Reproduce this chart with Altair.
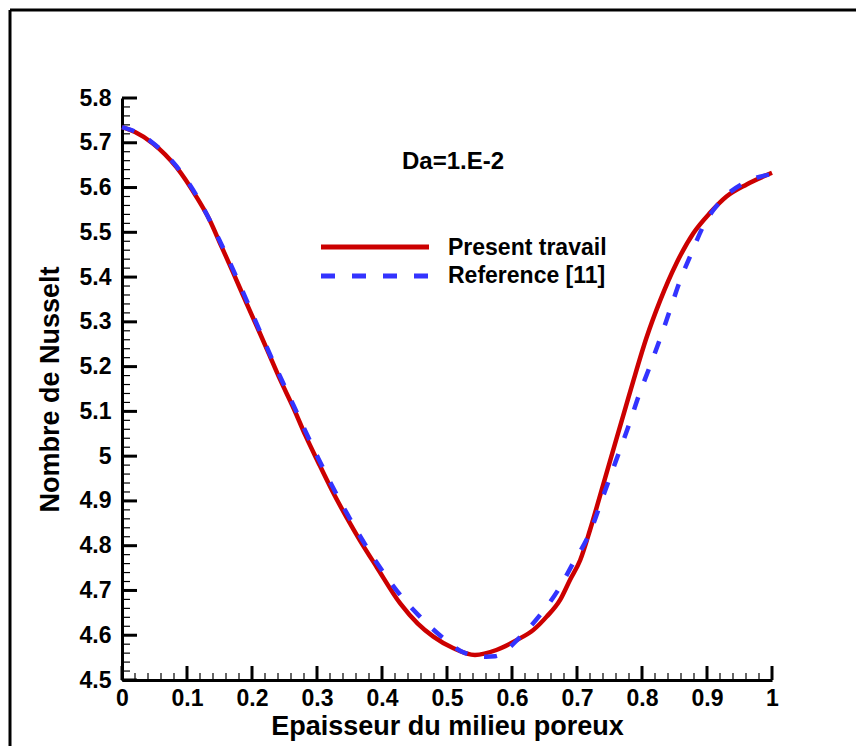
import altair as alt
import pandas as pd

# ---- data ----
red_x = [0, 0.02, 0.048, 0.084, 0.115, 0.135, 0.151, 0.171, 0.192, 0.212, 0.225, 0.243, 0.264,
         0.282, 0.302, 0.323, 0.346, 0.366, 0.392, 0.428, 0.455, 0.479, 0.51, 0.543, 0.576, 0.607,
         0.633, 0.653, 0.674, 0.689, 0.705, 0.72, 0.74, 0.76, 0.775, 0.787, 0.807, 0.828, 0.853,
         0.879, 0.905, 0.93, 0.961, 1.0]
red_y = [5.735, 5.724, 5.698, 5.645, 5.578, 5.527, 5.475, 5.410, 5.340, 5.275, 5.232, 5.172, 5.107,
         5.047, 4.986, 4.924, 4.862, 4.812, 4.752, 4.671, 4.626, 4.597, 4.571, 4.556, 4.567, 4.589,
         4.612, 4.641, 4.679, 4.723, 4.768, 4.835, 4.935, 5.035, 5.110, 5.170, 5.265, 5.348, 5.431,
         5.498, 5.544, 5.580, 5.607, 5.633]

blue_x = [0, 0.02, 0.048, 0.084, 0.115, 0.151, 0.192, 0.225, 0.264, 0.302, 0.346, 0.392, 0.428,
          0.456, 0.489, 0.528, 0.56, 0.574, 0.612, 0.643, 0.671, 0.694, 0.72, 0.74, 0.76, 0.78,
          0.795, 0.812, 0.828, 0.843, 0.858, 0.876, 0.894, 0.92, 0.961, 1.0]
blue_y = [5.735, 5.725, 5.699, 5.647, 5.581, 5.479, 5.347, 5.236, 5.113, 4.995, 4.872, 4.762, 4.690,
          4.645, 4.600, 4.560, 4.552, 4.553, 4.595, 4.645, 4.701, 4.761, 4.83, 4.91, 4.99, 5.07,
          5.135, 5.200, 5.263, 5.326, 5.390, 5.453, 5.513, 5.568, 5.613, 5.630]

x_major = [0, 0.1, 0.2, 0.3, 0.4, 0.5, 0.6, 0.7, 0.8, 0.9, 1.0]
x_minor = [0.02, 0.04, 0.06, 0.08, 0.12, 0.14, 0.16, 0.18, 0.22, 0.24, 0.26, 0.28,
           0.32, 0.34, 0.36, 0.38, 0.42, 0.44, 0.46, 0.48, 0.52, 0.54, 0.56, 0.58,
           0.62, 0.64, 0.66, 0.68, 0.72, 0.74, 0.76, 0.78, 0.82, 0.84, 0.86, 0.88,
           0.92, 0.94, 0.96, 0.98]
y_major = [4.5, 4.6, 4.7, 4.8, 4.9, 5.0, 5.1, 5.2, 5.3, 5.4, 5.5, 5.6, 5.7, 5.8]
y_minor = [4.52, 4.54, 4.56, 4.58, 4.62, 4.64, 4.66, 4.68, 4.72, 4.74, 4.76, 4.78,
           4.82, 4.84, 4.86, 4.88, 4.92, 4.94, 4.96, 4.98, 5.02, 5.04, 5.06, 5.08,
           5.12, 5.14, 5.16, 5.18, 5.22, 5.24, 5.26, 5.28, 5.32, 5.34, 5.36, 5.38,
           5.42, 5.44, 5.46, 5.48, 5.52, 5.54, 5.56, 5.58, 5.62, 5.64, 5.66, 5.68,
           5.72, 5.74, 5.76, 5.78]

series_names = ["Present travail", "Reference [11]"]
annotation = "Da=1.E-2"
x_title = "Epaisseur du milieu poreux"
y_title = "Nombre de Nusselt"

RED = "#cc0000"
BLUE = "#3333ff"
FONT = "Liberation Sans"
W, H = 650, 582

red_df = pd.DataFrame({"x": red_x, "y": red_y})
blue_df = pd.DataFrame({"x": blue_x, "y": blue_y})

xs = alt.Scale(domain=[0, 1], nice=False, zero=False)
ys = alt.Scale(domain=[4.5, 5.8], nice=False, zero=False)

x_axis = alt.Axis(values=x_major, title=x_title, labelExpr="format(datum.value, '~g')",
                  ticks=False, tickSize=0, grid=False, domainColor="black", domainWidth=3,
                  labelFont=FONT, labelFontSize=23, labelFontWeight="bold", labelColor="black",
                  labelPadding=7, labelFlush=False, labelOverlap=False,
                  titleFont=FONT, titleFontSize=27, titleFontWeight="bold", titleColor="black",
                  titlePadding=3)
y_axis = alt.Axis(values=y_major, title=y_title, labelExpr="format(datum.value, '~g')",
                  ticks=False, tickSize=0, grid=False, domainColor="black", domainWidth=3,
                  labelFont=FONT, labelFontSize=23, labelFontWeight="bold", labelColor="black",
                  labelPadding=11, labelFlush=False, labelOverlap=False,
                  titleFont=FONT, titleFontSize=27, titleFontWeight="bold", titleColor="black",
                  titlePadding=15)

red_line = alt.Chart(red_df).mark_line(color=RED, strokeWidth=4.5, interpolate="monotone").encode(
    x=alt.X("x:Q", scale=xs, axis=x_axis),
    y=alt.Y("y:Q", scale=ys, axis=y_axis),
)
blue_line = alt.Chart(blue_df).mark_line(color=BLUE, strokeWidth=4.5, strokeDash=[13, 17],
                                         interpolate="monotone").encode(
    x=alt.X("x:Q", scale=xs),
    y=alt.Y("y:Q", scale=ys),
)

# inward ticks
xmaj = alt.Chart(pd.DataFrame({"v": x_major})).mark_rule(color="black", strokeWidth=3).encode(
    x=alt.X("v:Q", scale=xs), y=alt.value(H), y2=alt.value(H - 14))
xmin = alt.Chart(pd.DataFrame({"v": x_minor})).mark_rule(color="black", strokeWidth=1.2).encode(
    x=alt.X("v:Q", scale=xs), y=alt.value(H), y2=alt.value(H - 7))
ymaj = alt.Chart(pd.DataFrame({"v": y_major})).mark_rule(color="black", strokeWidth=3).encode(
    y=alt.Y("v:Q", scale=ys), x=alt.value(0), x2=alt.value(15))
ymin = alt.Chart(pd.DataFrame({"v": y_minor})).mark_rule(color="black", strokeWidth=1.2).encode(
    y=alt.Y("v:Q", scale=ys), x=alt.value(0), x2=alt.value(8))

# annotation
da_text = alt.Chart(pd.DataFrame({"t": [annotation]})).mark_text(
    font=FONT, fontSize=24, fontWeight="bold", color="black", align="center", baseline="alphabetic"
).encode(text="t:N", x=alt.value(331), y=alt.value(71))

# manual legend
leg_red = alt.Chart(pd.DataFrame({"a": [0]})).mark_rule(color=RED, strokeWidth=5).encode(
    x=alt.value(199), x2=alt.value(307), y=alt.value(149))
leg_blue = alt.Chart(pd.DataFrame({"a": [0]})).mark_rule(color=BLUE, strokeWidth=5,
                                                          strokeDash=[14, 17]).encode(
    x=alt.value(199), x2=alt.value(307), y=alt.value(178))
leg_t1 = alt.Chart(pd.DataFrame({"t": [series_names[0]]})).mark_text(
    font=FONT, fontSize=23, fontWeight="bold", color="black", align="left", baseline="alphabetic"
).encode(text="t:N", x=alt.value(326), y=alt.value(157))
leg_t2 = alt.Chart(pd.DataFrame({"t": [series_names[1]]})).mark_text(
    font=FONT, fontSize=23, fontWeight="bold", color="black", align="left", baseline="alphabetic"
).encode(text="t:N", x=alt.value(326), y=alt.value(185))

# outer frame (top and left edges visible)
frame_top = alt.Chart(pd.DataFrame({"a": [0]})).mark_rule(color="black", strokeWidth=3).encode(
    x=alt.value(-112), x2=alt.value(W + 120), y=alt.value(-88))
frame_left = alt.Chart(pd.DataFrame({"a": [0]})).mark_rule(color="black", strokeWidth=3).encode(
    x=alt.value(-112), y=alt.value(-88), y2=alt.value(H + 80))

chart = alt.layer(
    frame_top, frame_left, xmin, xmaj, ymin, ymaj, red_line, blue_line,
    da_text, leg_red, leg_blue, leg_t1, leg_t2
).properties(
    width=W, height=H,
    autosize=alt.AutoSizeParams(type="none"),
    padding={"left": 114, "top": 90, "right": 84, "bottom": 66},
    background="white",
).configure_view(stroke=None)

chart.save("out.html", embed_options={"renderer": "svg", "actions": False})
